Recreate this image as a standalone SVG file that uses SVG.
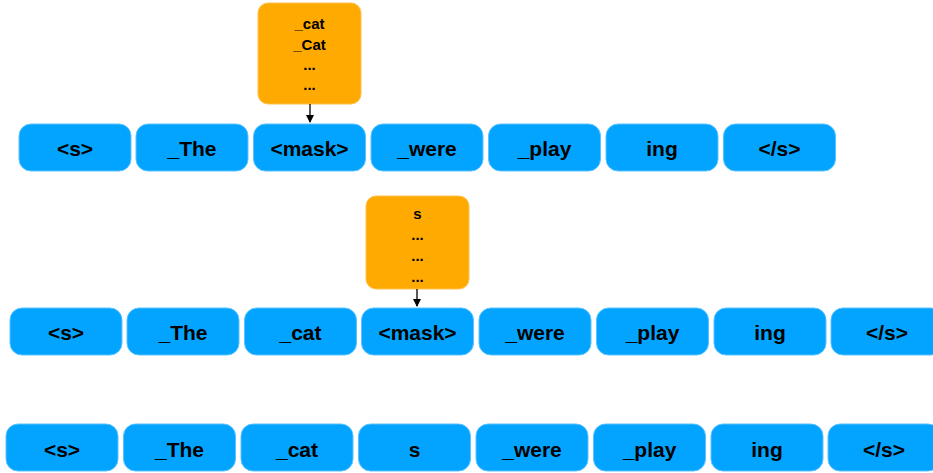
<svg xmlns="http://www.w3.org/2000/svg" width="933" height="473" viewBox="0 0 933 473">
<style>
.tok{fill:#03A4FF;stroke:#5BC2FF;stroke-width:1}
.cand{fill:#FFAA00;stroke:#FFC04D;stroke-width:1}
.t{font-family:"Liberation Sans",Arial,sans-serif;font-size:21px;font-weight:bold;fill:#000;text-anchor:middle}
.c{font-family:"Liberation Sans",Arial,sans-serif;font-size:15px;font-weight:bold;fill:#000;text-anchor:middle}
.edge{stroke:#000;stroke-width:1.3;fill:none}
</style>
<defs>
<marker id="ah" markerWidth="8" markerHeight="8" refX="7" refY="4" orient="auto" markerUnits="userSpaceOnUse">
<path d="M0,0 L8,4 L0,8 z" fill="#000"/>
</marker>
</defs>
<g id="cand1"><rect class="cand" x="258" y="3" width="103" height="101" rx="10"/>
<text class="c" x="309.5" y="29">_cat</text><text class="c" x="309.5" y="50">_Cat</text><text class="c" x="309.5" y="70">...</text><text class="c" x="309.5" y="90">...</text></g>
<g id="cand2"><rect class="cand" x="366" y="196" width="103" height="93" rx="10"/>
<text class="c" x="417.5" y="219">s</text><text class="c" x="417.5" y="240">...</text><text class="c" x="417.5" y="261">...</text><text class="c" x="417.5" y="282">...</text></g>
<g id="row1">
<g id="r1n1"><rect class="tok" x="19" y="124" width="112" height="47" rx="12"/><text class="t" x="75" y="156">&lt;s&gt;</text></g>
<g id="r1n2"><rect class="tok" x="136" y="124" width="112" height="47" rx="12"/><text class="t" x="192" y="156">_The</text></g>
<g id="r1n3"><rect class="tok" x="253.5" y="124" width="112" height="47" rx="12"/><text class="t" x="309.5" y="156">&lt;mask&gt;</text></g>
<g id="r1n4"><rect class="tok" x="371" y="124" width="112" height="47" rx="12"/><text class="t" x="427" y="156">_were</text></g>
<g id="r1n5"><rect class="tok" x="488.5" y="124" width="112" height="47" rx="12"/><text class="t" x="544.5" y="156">_play</text></g>
<g id="r1n6"><rect class="tok" x="606" y="124" width="112" height="47" rx="12"/><text class="t" x="662" y="156">ing</text></g>
<g id="r1n7"><rect class="tok" x="723.5" y="124" width="112" height="47" rx="12"/><text class="t" x="779.5" y="156">&lt;/s&gt;</text></g>
</g>
<g id="row2">
<g id="r2n1"><rect class="tok" x="10" y="308" width="112" height="47" rx="12"/><text class="t" x="66" y="340">&lt;s&gt;</text></g>
<g id="r2n2"><rect class="tok" x="127" y="308" width="112" height="47" rx="12"/><text class="t" x="183" y="340">_The</text></g>
<g id="r2n3"><rect class="tok" x="244.5" y="308" width="112" height="47" rx="12"/><text class="t" x="300.5" y="340">_cat</text></g>
<g id="r2n4"><rect class="tok" x="361.5" y="308" width="112" height="47" rx="12"/><text class="t" x="417.5" y="340">&lt;mask&gt;</text></g>
<g id="r2n5"><rect class="tok" x="479" y="308" width="112" height="47" rx="12"/><text class="t" x="535" y="340">_were</text></g>
<g id="r2n6"><rect class="tok" x="596.5" y="308" width="112" height="47" rx="12"/><text class="t" x="652.5" y="340">_play</text></g>
<g id="r2n7"><rect class="tok" x="714" y="308" width="112" height="47" rx="12"/><text class="t" x="770" y="340">ing</text></g>
<g id="r2n8"><rect class="tok" x="831" y="308" width="112" height="47" rx="12"/><text class="t" x="887" y="340">&lt;/s&gt;</text></g>
</g>
<g id="row3">
<g id="r3n1"><rect class="tok" x="6" y="424" width="112" height="47" rx="12"/><text class="t" x="62" y="457">&lt;s&gt;</text></g>
<g id="r3n2"><rect class="tok" x="123.5" y="424" width="112" height="47" rx="12"/><text class="t" x="179.5" y="457">_The</text></g>
<g id="r3n3"><rect class="tok" x="241" y="424" width="112" height="47" rx="12"/><text class="t" x="297" y="457">_cat</text></g>
<g id="r3n4"><rect class="tok" x="358.5" y="424" width="112" height="47" rx="12"/><text class="t" x="414.5" y="457">s</text></g>
<g id="r3n5"><rect class="tok" x="476" y="424" width="112" height="47" rx="12"/><text class="t" x="532" y="457">_were</text></g>
<g id="r3n6"><rect class="tok" x="593.5" y="424" width="112" height="47" rx="12"/><text class="t" x="649.5" y="457">_play</text></g>
<g id="r3n7"><rect class="tok" x="711" y="424" width="112" height="47" rx="12"/><text class="t" x="767" y="457">ing</text></g>
<g id="r3n8"><rect class="tok" x="828" y="424" width="112" height="47" rx="12"/><text class="t" x="884" y="457">&lt;/s&gt;</text></g>
</g>
<g id="connectors">
<line class="edge" x1="310" y1="104" x2="310" y2="122" marker-end="url(#ah)"/>
<line class="edge" x1="417" y1="289" x2="417" y2="306" marker-end="url(#ah)"/>
</g>
</svg>
